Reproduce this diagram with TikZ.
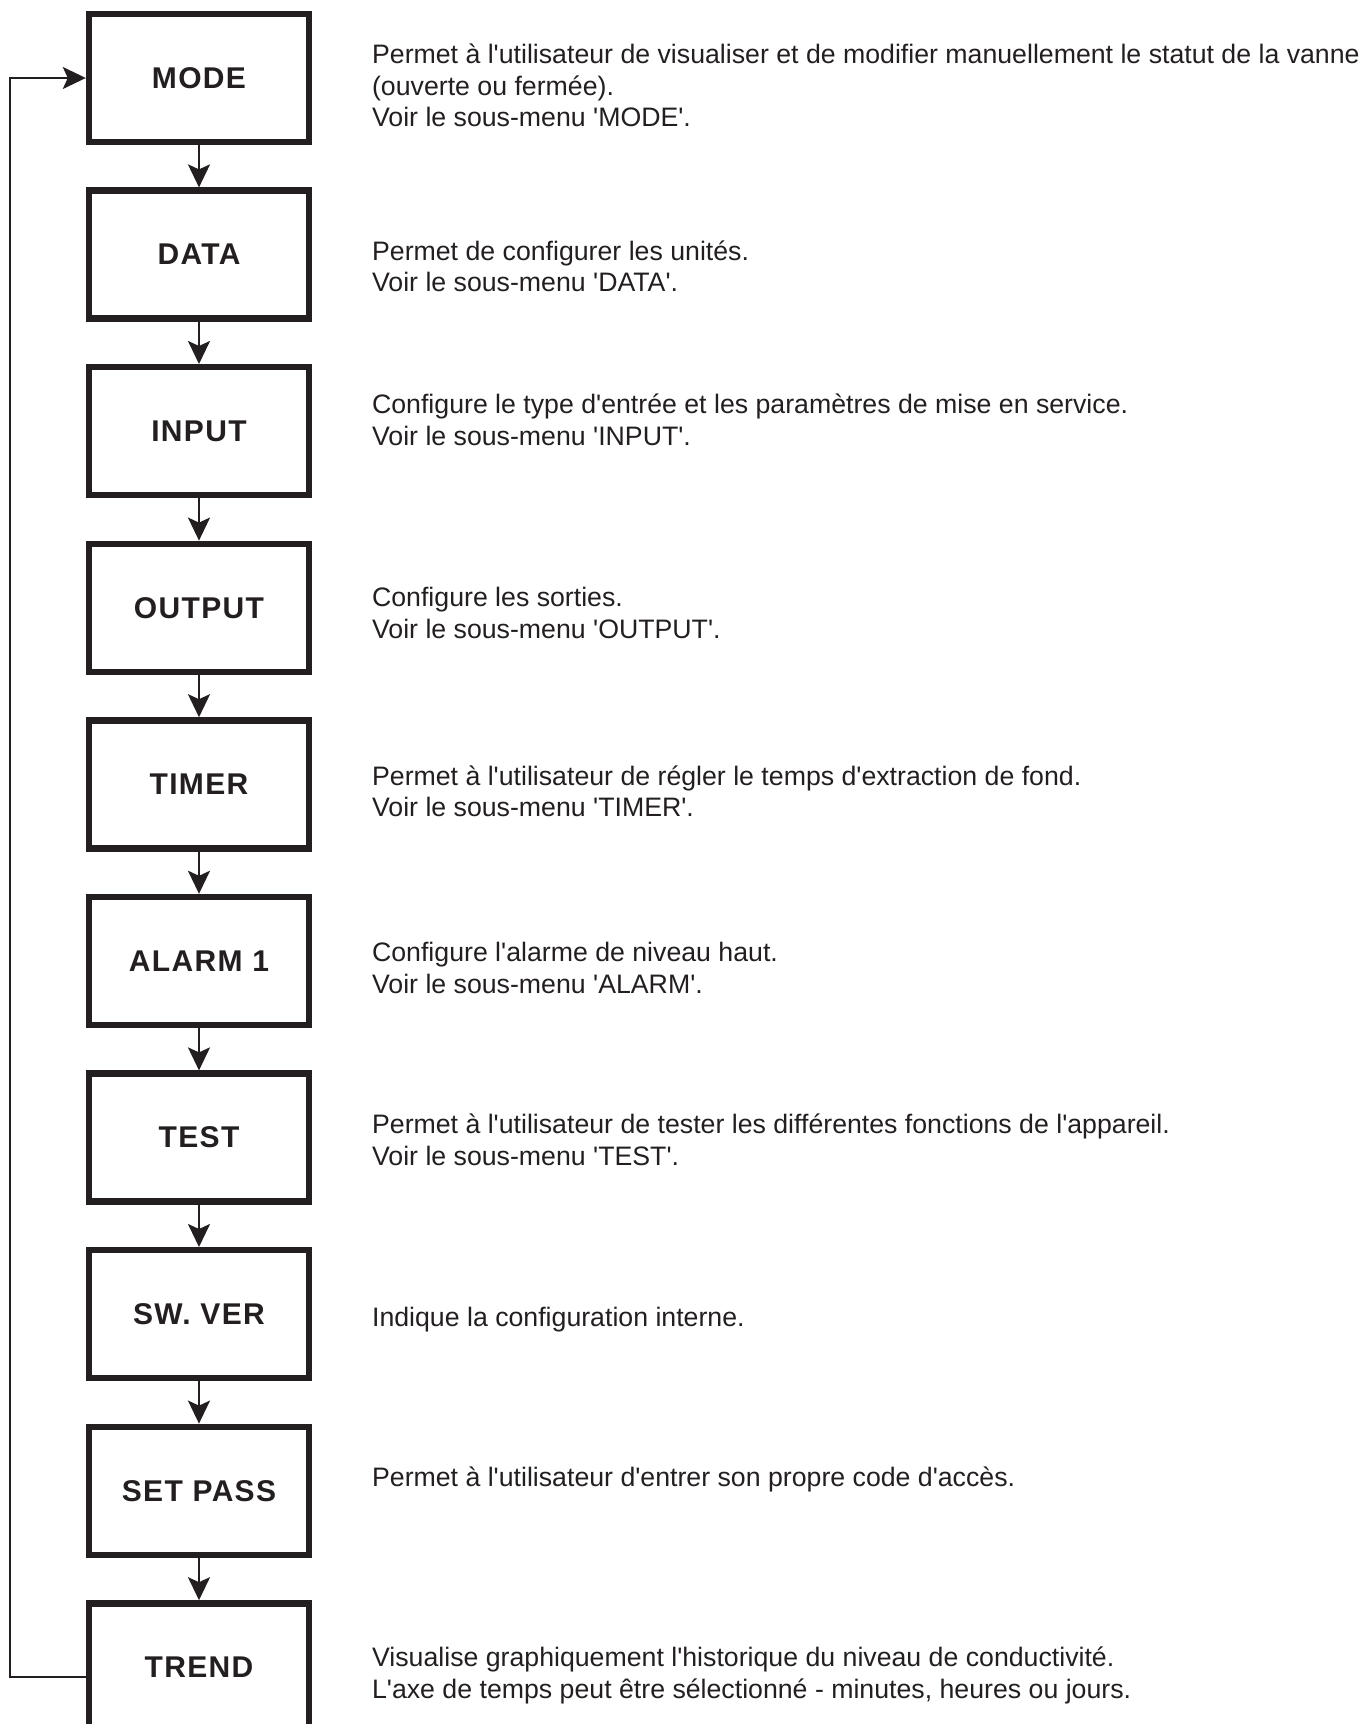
\documentclass[tikz,border=0pt]{standalone}
\usepackage{fontspec}
\setmainfont{Liberation Sans}
\newfontfamily\infofont{Liberation Sans}[Ligatures=TeXOff]
\newfontfamily\boxfont{Liberation Sans}[LetterSpace=4.5]
\usetikzlibrary{arrows.meta}
\definecolor{ink}{HTML}{231F20}

\begin{document}
\begin{tikzpicture}[x=0.5pt,y=-0.5pt,
  menu/.style={draw=ink,text=ink,line width=3.2pt,minimum width=110pt,minimum height=64pt,inner sep=0pt,font=\boxfont\bfseries\fontsize{15}{17}\selectfont},
  info/.style={anchor=base west,align=left,inner sep=0pt,text=ink,font=\infofont\fontsize{13.35}{15.85}\selectfont},
  flow/.style={draw=ink,line width=1.2pt,-{Stealth[length=11.5pt,width=11pt,inset=2.5pt]}}]
\clip (0,0) rectangle (1363,1724);
% menu column
\foreach \k/\1 in %
{0/MODE,1/DATA,2/INPUT,3/OUTPUT,4/TIMER,5/ALARM 1,6/TEST,7/SW. VER,8/SET PASS,9/TREND} {
   \node[menu] (b\k) at (199,78+176.6*\k) {\1};
}
\foreach \j [remember=\j as \k (initially 0)] in {1,...,9} {
   \draw[flow] (b\k.south) -- (b\j.north);
}
\coordinate (ret) at (10,1677);
\draw[flow,line width=1pt] (b9.west |- ret) -- (ret) |- (b0.west);
% descriptions (placed at the baseline of their last line)
\node[info] (d0) at (371.7,126.7) {Permet à l'utilisateur de visualiser et de modifier manuellement le statut de la vanne\\(ouverte ou fermée).\\Voir le sous-menu 'MODE'.};
\node[info] (d1) at (371.7,291.7) {Permet de configurer les unités.\\Voir le sous-menu 'DATA'.};
\node[info] (d2) at (371.7,445) {Configure le type d'entrée et les paramètres de mise en service.\\Voir le sous-menu 'INPUT'.};
\node[info] (d3) at (371.7,638.3) {Configure les sorties.\\Voir le sous-menu 'OUTPUT'.};
\node[info] (d4) at (371.7,816.7) {Permet à l'utilisateur de régler le temps d'extraction de fond.\\Voir le sous-menu 'TIMER'.};
\node[info] (d5) at (371.7,993.3) {Configure l'alarme de niveau haut.\\Voir le sous-menu 'ALARM'.};
\node[info] (d6) at (371.7,1165) {Permet à l'utilisateur de tester les différentes fonctions de l'appareil.\\Voir le sous-menu 'TEST'.};
\node[info] (d7) at (371.7,1326.7) {Indique la configuration interne.};
\node[info] (d8) at (371.7,1486) {Permet à l'utilisateur d'entrer son propre code d'accès.};
\node[info] (d9) at (371.7,1698.3) {Visualise graphiquement l'historique du niveau de conductivité.\\L'axe de temps peut être sélectionné - minutes, heures ou jours.};
\end{tikzpicture}
\end{document}
